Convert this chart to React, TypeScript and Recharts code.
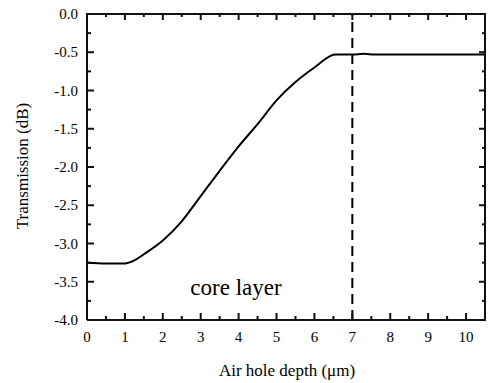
import React from 'react';
import { LineChart, Line, XAxis, YAxis, ReferenceLine } from 'recharts';

const depths = [0, 0.5, 1.0, 1.25, 1.5, 2.0, 2.5, 3.0, 3.5, 4.0, 4.5, 5.0, 5.5, 6.0, 6.55, 7.0, 7.3, 7.6, 8.0, 8.5, 9.0, 9.5, 10.0, 10.5];
const transmission = [-3.25, -3.26, -3.26, -3.22, -3.14, -2.96, -2.71, -2.38, -2.05, -1.73, -1.44, -1.13, -0.89, -0.7, -0.53, -0.53, -0.52, -0.53, -0.53, -0.53, -0.53, -0.53, -0.53, -0.53];
const xTicks = [0, 0.5, 1, 1.5, 2, 2.5, 3, 3.5, 4, 4.5, 5, 5.5, 6, 6.5, 7, 7.5, 8, 8.5, 9, 9.5, 10, 10.5];
const yTicks = [0, -0.25, -0.5, -0.75, -1, -1.25, -1.5, -1.75, -2, -2.25, -2.5, -2.75, -3, -3.25, -3.5, -3.75, -4];
const markerX = 7;
const xTitle = 'Air hole depth (μm)';
const yTitle = 'Transmission (dB)';
const annotationText = 'core layer';

const data = depths.map((d, i) => ({ depth: d, t: transmission[i] }));

const isMajorX = (v: number) => Math.abs(v - Math.round(v)) < 1e-6;
const isMajorY = (v: number) => Math.abs(v * 2 - Math.round(v * 2)) < 1e-6;

const BottomTick = (props: any) => {
  const { x, y, payload } = props;
  const ay = y - 1;
  const v = payload.value;
  const major = isMajorX(v);
  return (
    <g>
      <path d={`M${x},${ay}L${x},${ay - (major ? 7 : 4)}`} stroke="#111" strokeWidth={2} fill="none" />
      {major && (
        <text x={x} y={ay + 22} textAnchor="middle" fontSize={15} fill="#000">
          {String(v)}
        </text>
      )}
    </g>
  );
};

const TopTick = (props: any) => {
  const { x, y, payload } = props;
  const major = isMajorX(payload.value);
  return <path d={`M${x},${y}L${x},${y + (major ? 7 : 4)}`} stroke="#111" strokeWidth={2} fill="none" />;
};

const LeftTick = (props: any) => {
  const { x, y, payload } = props;
  const ax = x + 1;
  const v = payload.value;
  const major = isMajorY(v);
  return (
    <g>
      <path d={`M${ax},${y}L${ax + (major ? 7 : 4)},${y}`} stroke="#111" strokeWidth={2} fill="none" />
      {major && (
        <text x={ax - 9} y={y + 5} textAnchor="end" fontSize={15} fill="#000">
          {v.toFixed(1)}
        </text>
      )}
    </g>
  );
};

const RightTick = (props: any) => {
  const { x, y, payload } = props;
  const major = isMajorY(payload.value);
  return <path d={`M${x},${y}L${x - (major ? 7 : 4)},${y}`} stroke="#111" strokeWidth={2} fill="none" />;
};

export default function App() {
  return (
    <div style={{ position: 'absolute', left: 0, top: 0, width: 490, height: 383, background: '#fff', fontFamily: 'Liberation Serif, serif' }}>
      <LineChart width={490} height={383} data={data} margin={{ top: 13, right: 4, bottom: 0, left: 0 }}>
        <XAxis xAxisId="b" dataKey="depth" type="number" domain={[0, 10.5]} ticks={xTicks} interval={0} allowDataOverflow height={63}
          tickSize={1} tickMargin={0} tickLine={false} axisLine={{ stroke: '#111', strokeWidth: 2 }} tick={<BottomTick />} />
        <XAxis xAxisId="t" orientation="top" dataKey="depth" type="number" domain={[0, 10.5]} ticks={xTicks} interval={0} allowDataOverflow height={1}
          tickSize={1} tickMargin={0} tickLine={false} axisLine={{ stroke: '#111', strokeWidth: 2 }} tick={<TopTick />} />
        <YAxis yAxisId="l" type="number" domain={[-4, 0]} ticks={yTicks} interval={0} allowDataOverflow width={87}
          tickSize={1} tickMargin={0} tickLine={false} axisLine={{ stroke: '#111', strokeWidth: 2 }} tick={<LeftTick />} />
        <YAxis yAxisId="r" orientation="right" type="number" domain={[-4, 0]} ticks={yTicks} interval={0} allowDataOverflow width={1}
          tickSize={1} tickMargin={0} tickLine={false} axisLine={{ stroke: '#111', strokeWidth: 2 }} tick={<RightTick />} />
        <ReferenceLine xAxisId="b" yAxisId="l" x={markerX} stroke="#000" strokeWidth={2} strokeDasharray="10 6" />
        <Line xAxisId="b" yAxisId="l" dataKey="t" type="monotone" stroke="#000" strokeWidth={2} dot={false} isAnimationActive={false} />
      </LineChart>
      <svg width={490} height={383} style={{ position: 'absolute', left: 0, top: 0, pointerEvents: 'none' }}>
        <text x={287} y={376} textAnchor="middle" fontSize={17} fill="#000">{xTitle}</text>
        <text x={28} y={166} textAnchor="middle" fontSize={17} fill="#000" transform="rotate(-90 28 166)">{yTitle}</text>
        <text x={236} y={295} textAnchor="middle" fontSize={23} fill="#000">{annotationText}</text>
      </svg>
    </div>
  );
}
